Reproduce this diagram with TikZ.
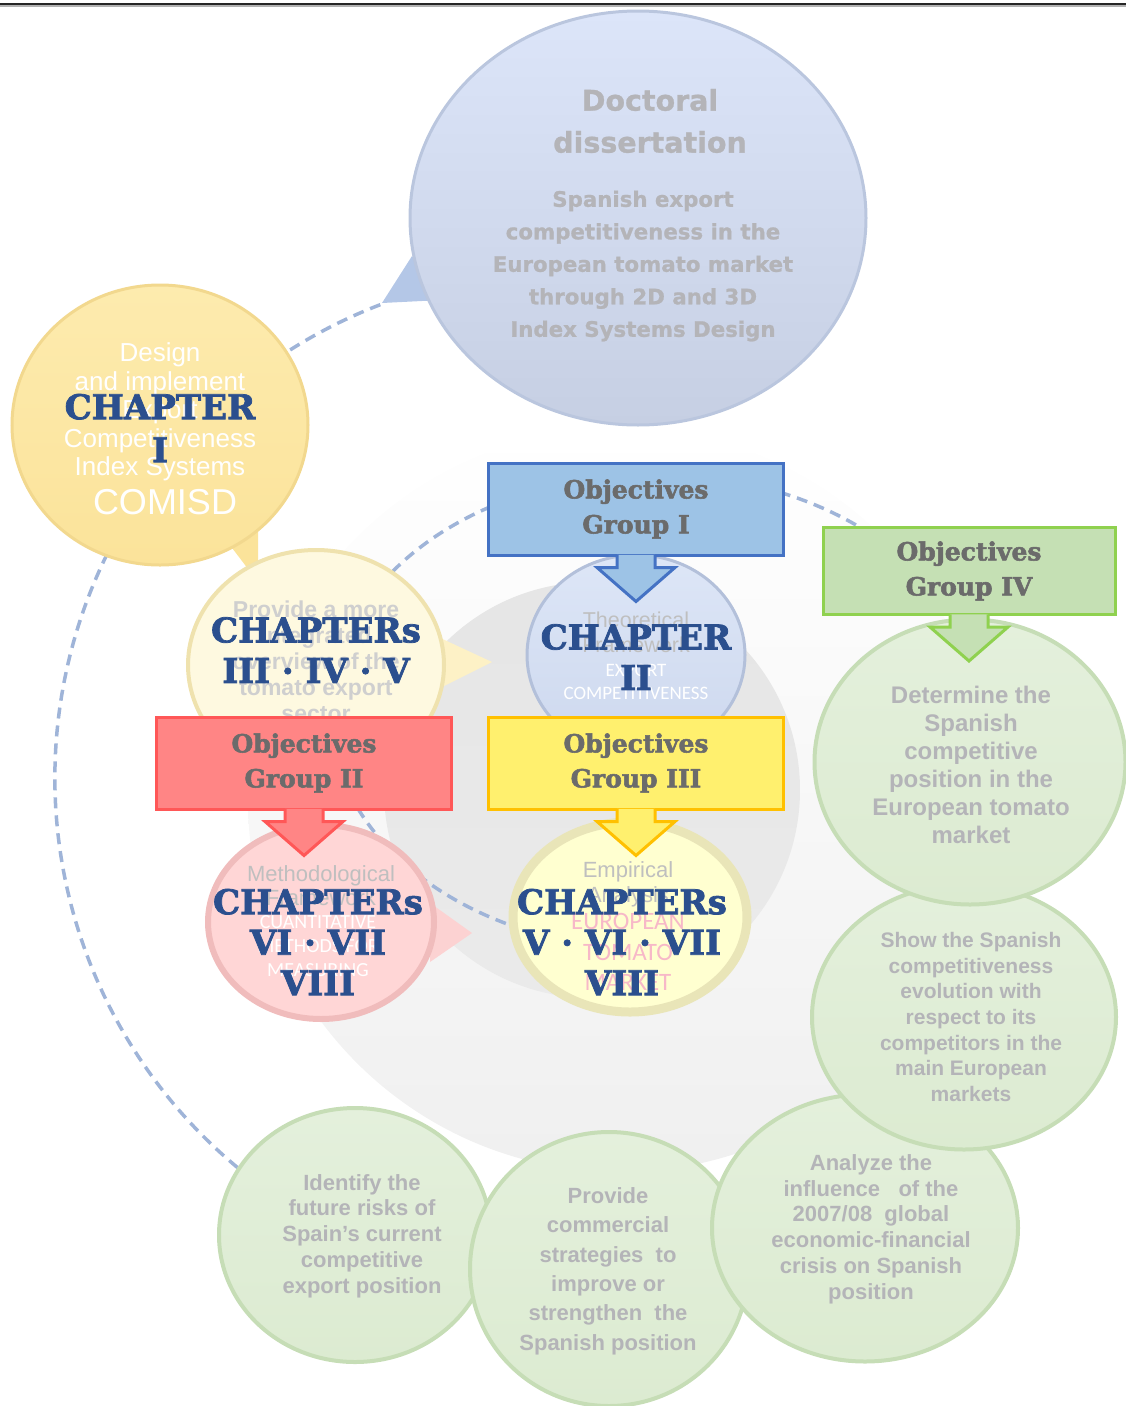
\documentclass[tikz,border=0pt]{standalone}
\usepackage{fontspec}
\setmainfont{Liberation Sans}
\newfontfamily\slabfont{DejaVu Serif}[UprightFont=* Bold,FakeBold=2.2]
\newfontfamily\docfont{DejaVu Sans}[UprightFont=* Bold,FakeBold=1]
\newfontfamily\capsfont{Carlito}
\usetikzlibrary{shapes.geometric,positioning}

\definecolor{chapblue}{HTML}{2B4F8E}
\definecolor{objgray}{HTML}{6B6B6B}
\definecolor{txtgray}{HTML}{B4B4B8}
\definecolor{ringblue}{HTML}{9FB4D8}
\definecolor{dissA}{HTML}{DCE5F9}
\definecolor{dissB}{HTML}{C6CFE3}
\definecolor{dissRim}{HTML}{BAC6DE}
\definecolor{dissTail}{HTML}{B4C7E7}
\definecolor{comA}{HTML}{FDEBAE}
\definecolor{comB}{HTML}{FBE39A}
\definecolor{comRim}{HTML}{F2D88E}
\definecolor{ovA}{HTML}{FEF9E0}
\definecolor{ovRim}{HTML}{EFE2AE}
\definecolor{ovTail}{HTML}{FDF1C6}
\definecolor{thA}{HTML}{DDE6F7}
\definecolor{thB}{HTML}{CDD8EE}
\definecolor{thRim}{HTML}{B3C0DA}
\definecolor{meA}{HTML}{FFD6D6}
\definecolor{meRim}{HTML}{F0BCBC}
\definecolor{meTail}{HTML}{FCD2D2}
\definecolor{emA}{HTML}{FFFFD0}
\definecolor{emRim}{HTML}{E9E5B8}
\definecolor{goalA}{HTML}{E4F0DC}
\definecolor{goalB}{HTML}{DCEBD1}
\definecolor{goalRim}{HTML}{C6DDB6}
\definecolor{objIfill}{HTML}{9DC3E6}
\definecolor{objIrim}{HTML}{4472C4}
\definecolor{objIIfill}{HTML}{FF8585}
\definecolor{objIIrim}{HTML}{FF5757}
\definecolor{objIIIfill}{HTML}{FFF06E}
\definecolor{objIIIrim}{HTML}{FFC000}
\definecolor{objIVfill}{HTML}{C5E0B4}
\definecolor{objIVrim}{HTML}{8FD14F}
\definecolor{pinktxt}{HTML}{F7B8C8}

\tikzstyle{bubble} = [ellipse, inner sep=0pt]
\tikzstyle{goalbubble} = [bubble, top color=goalA, bottom color=goalB, draw=goalRim, line width=4pt]
\tikzstyle{goaltext} = [align=center, text=txtgray, font=\bfseries\fontsize{22}{25.8}\selectfont]
\tikzstyle{chaptext} = [align=center, text=chapblue, font=\slabfont\fontsize{34}{40.5}\selectfont]
\tikzstyle{objbox} = [rectangle, line width=3pt, minimum width=295pt, minimum height=92pt, align=center, text=objgray, font=\slabfont\fontsize{25}{35}\selectfont]
\tikzstyle{objarrow} = [line width=3pt, line join=miter]
\tikzstyle{dashring} = [draw=ringblue, line width=3.5pt, dash pattern=on 11pt off 7pt]
\tikzset{downtip/.style={insert path={([xshift=-19pt,yshift=1.6pt]#1.south) -- ++(0,12.6) -- ++(-20,0) -- ++(39,34) -- ++(39,-34) -- ++(-20,0) -- ++(0,-12.6)}}}

\begin{document}
\begin{tikzpicture}[x=1pt,y=-1pt]
	\useasboundingbox (0,0) rectangle (1126,1406);
	% rule at the top of the page
	\draw[line width=2pt, black!85] (0,3.5) -- (1126,3.5);
	\draw[line width=2pt, black!30] (0,5.8) -- (1126,5.8);
	% background discs
	\shade[top color=white, bottom color=black!6] (620,800) circle[radius=372];
	\shade[top color=black!10, bottom color=black!8] (592,790) circle[radius=208];
	% dashed rings
	\draw[dashring] (562,778) ++(249:507) arc[start angle=249, end angle=128, radius=507];
	\draw[dashring] (655,712) ++(114:325 and 238) arc[start angle=114, end angle=338, x radius=325, y radius=238];

	% doctoral dissertation
	\fill[dissTail] (412,256) -- (382,303) -- (442,300) -- cycle;
	\node[bubble, minimum width=456pt, minimum height=414pt, top color=dissA, bottom color=dissB, draw=dissRim, line width=3pt] (diss) at (638,218) {};
	\node[text=txtgray, align=center, font=\docfont\fontsize{28.5}{42}\selectfont] (dissTitle) at (650,121) {Doctoral\\dissertation};
	\node[text=txtgray, align=center, font=\docfont\fontsize{21.3}{32.5}\selectfont] (dissSub) at (643,266) {Spanish export\\competitiveness in the\\European tomato market\\through 2D and 3D\\Index Systems Design};

	% chapter I
	\fill[comB] (226,540) -- (258,528) -- (258,582) -- cycle;
	\node[bubble, minimum width=296pt, minimum height=280pt, top color=comA, bottom color=comB, draw=comRim, line width=3pt] (comisd) at (160,425) {};
	\begin{scope}
		\clip (40,330) rectangle (263,530);
		\node[text=white, align=center, font=\fontsize{26}{28.5}\selectfont] (comisdText) at (160,412) {Design\\and implement\\Export\\Competitiveness\\Index Systems};
		\node[text=white, font=\fontsize{36}{40}\selectfont] (comisdAcr) at (165,502) {COMISD};
	\end{scope}
	\node[chaptext, font=\slabfont\fontsize{34}{43}\selectfont] (chapI) at (160,428) {CHAPTER\\I};

	% chapters III IV V
	\fill[ovTail] (436,636) -- (492,662) -- (436,690) -- cycle;
	\node[bubble, minimum width=256pt, minimum height=230pt, fill=ovA, draw=ovRim, line width=4pt] (overview) at (316,665) {};
	\node[text=black!19, align=center, font=\bfseries\fontsize{23}{26}\selectfont] (overviewText) at (316,661) {Provide a more\\integrated\\overview of the\\tomato export\\sector};
	\node[chaptext] (chapIII) at (316,650) {CHAPTERs\\III · IV · V};

	% chapter II
	\node[bubble, minimum width=218pt, minimum height=200pt, top color=thA, bottom color=thB, draw=thRim, line width=3pt] (theory) at (636,655) {};
	\node[text=black!25, align=center, font=\fontsize{21.5}{25}\selectfont] (theoryText) at (636,632) {Theoretical\\Framework};
	\node[text=white, align=center, font=\capsfont\fontsize{19}{23}\selectfont] (theoryCaps) at (636,682) {EXPORT\\COMPETITIVENESS};
	\node[chaptext] (chapII) at (636,657) {CHAPTER\\II};

	% chapters VI VII VIII
	\fill[meTail] (430,903) -- (472,933) -- (430,962) -- cycle;
	\node[bubble, minimum width=226pt, minimum height=194pt, fill=meA, draw=meRim, line width=6pt] (method) at (321,922) {};
	\node[text=black!25, align=center, font=\fontsize{22}{24}\selectfont] (methodText) at (321,886) {Methodological\\Framework};
	\node[text=white, align=center, font=\capsfont\fontsize{20}{24}\selectfont] (methodCaps) at (318,946) {CUANTITATIVE\\METHODS FOR\\MEASURING};
	\node[chaptext] (chapVI) at (318,942) {CHAPTERs\\VI · VII\\VIII};

	% chapters V VI VII VIII
	\node[bubble, minimum width=234pt, minimum height=190pt, fill=emA, draw=emRim, line width=9pt] (empir) at (630,917) {};
	\node[text=black!25, align=center, font=\fontsize{22}{25}\selectfont] (empirText) at (628,884) {Empirical\\Analysis};
	\node[text=pinktxt, align=center, font=\capsfont\fontsize{25}{30.5}\selectfont] (empirCaps) at (628,952) {EUROPEAN\\TOMATO\\MARKET};
	\node[chaptext] (chapV) at (622,942) {CHAPTERs\\V · VI · VII\\VIII};

	% objectives of group IV
	\node[goalbubble, minimum width=272pt, minimum height=254pt] (risks) at (355,1235) {};
	\node[goaltext, font=\bfseries\fontsize{22}{25.75}\selectfont] (risksText) at (362,1236) {Identify the\\future risks of\\Spain's current\\competitive\\export position};
	\node[goalbubble, minimum width=278pt, minimum height=274pt] (strategy) at (609,1269) {};
	\node[goaltext, font=\bfseries\fontsize{22}{29.4}\selectfont] (strategyText) at (608,1271) {Provide\\commercial\\strategies~ to\\improve or\\strengthen~ the\\Spanish position};
	\node[goalbubble, minimum width=306pt, minimum height=267pt] (crisis) at (865,1228) {};
	\node[goaltext] (crisisText) at (871,1229) {Analyze the\\influence~~ of the\\2007/08~ global\\economic-financial\\crisis on Spanish\\position};
	\node[goalbubble, minimum width=304pt, minimum height=265pt] (evolution) at (964,1017) {};
	\node[goaltext, font=\bfseries\fontsize{21}{25.7}\selectfont] (evolutionText) at (971,1017) {Show the Spanish\\competitiveness\\evolution with\\respect to its\\competitors in the\\main European\\markets};
	\node[goalbubble, minimum width=311pt, minimum height=285pt] (determine) at (970,762) {};
	\node[goaltext, font=\bfseries\fontsize{24}{28}\selectfont] (determineText) at (971,765) {Determine the\\Spanish\\competitive\\position in the\\European tomato\\market};

	% objective groups
	\node[objbox, fill=objIfill, draw=objIrim] (objI) at (636,509) {Objectives\\Group I};
	\filldraw[objarrow, fill=objIfill, draw=objIrim, downtip=objI];
	\node[objbox, fill=objIIfill, draw=objIIrim] (objII) at (304,763) {Objectives\\Group II};
	\filldraw[objarrow, fill=objIIfill, draw=objIIrim, downtip=objII];
	\node[objbox, fill=objIIIfill, draw=objIIIrim] (objIII) at (636,763) {Objectives\\Group III};
	\filldraw[objarrow, fill=objIIIfill, draw=objIIIrim, downtip=objIII];
	\node[objbox, fill=objIVfill, draw=objIVrim, minimum width=292pt, minimum height=87pt] (objIV) at (969,571) {Objectives\\Group IV};
	\filldraw[objarrow, fill=objIVfill, draw=objIVrim, downtip=objIV];
\end{tikzpicture}
\end{document}
